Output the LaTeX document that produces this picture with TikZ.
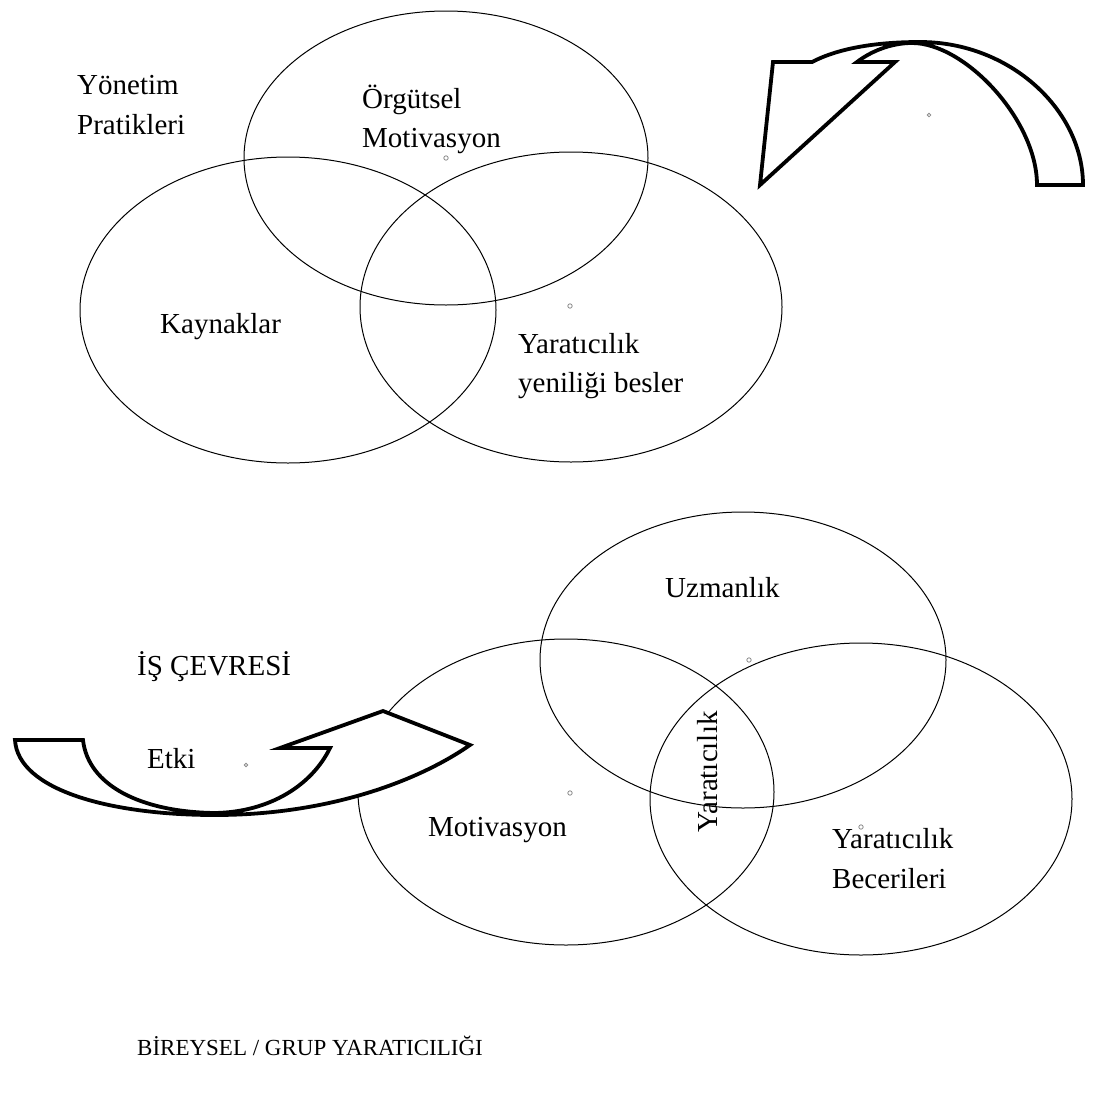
\documentclass[tikz,border=0pt]{standalone}
\usepackage{fontspec}
\setmainfont{Liberation Serif}
\begin{document}
\begin{tikzpicture}[x=1pt,y=-1pt,
  ring/.style={draw=black,line width=1pt},
  band/.style={draw=black,line width=3.8pt,line join=miter,fill=white},
  pip/.style={draw=black!45,line width=0.8pt,fill=white},
  lbl/.style={anchor=base west,inner sep=0pt,font=\fontsize{29}{35}\selectfont},
  vlbl/.style={inner sep=0pt,rotate=90,font=\fontsize{29}{35}\selectfont}]
\useasboundingbox (0,0) rectangle (1103,1093);

% upper group of overlapping ellipses
\draw[ring] (446,158) ellipse [x radius=202, y radius=147];
\draw[ring] (288,310) ellipse [x radius=208, y radius=153];
\draw[ring] (571,307) ellipse [x radius=211, y radius=155];

% lower group of overlapping ellipses
\draw[ring] (743,660) ellipse [x radius=203, y radius=148];
\draw[ring] (566,792) ellipse [x radius=208, y radius=153];
\draw[ring] (861,799) ellipse [x radius=211, y radius=156];

% curved band arrow, upper right
\draw[band] (1037,185) -- (1083,185)
  .. controls (1083,110) and (1010,42) .. (920,42)
  .. controls (870,42) and (835,50) .. (812,62)
  -- (773,62) -- (760,185) -- (895,62) -- (857,62)
  .. controls (870,52) and (890,43) .. (912,43)
  .. controls (965,43) and (1037,120) .. cycle;

% curved band arrow, lower left
\draw[band] (83,740) -- (15,740)
  .. controls (18,790) and (110,815) .. (215,815)
  .. controls (330,815) and (420,780) .. (470,745)
  -- (383,711) -- (280,748) -- (330,748)
  .. controls (312,785) and (270,812) .. (215,813)
  .. controls (140,812) and (88,785) .. cycle;

% small centre marks
\draw[pip] (446,158) circle [radius=2.2];
\draw[pip] (570,306) circle [radius=2.2];
\draw[pip] (929,115) circle [radius=1.8];
\draw[pip] (749,660) circle [radius=2.2];
\draw[pip] (570,793) circle [radius=2.2];
\draw[pip] (861,827) circle [radius=2.2];
\draw[pip] (246,765) circle [radius=1.8];

% labels
\node[lbl] (yon)  at (77,94)   {Yönetim};
\node[lbl] (prat) at (77,134)  {Pratikleri};
\node[lbl] (org)  at (362,108) {Örgütsel};
\node[lbl] (omot) at (362,147) {Motivasyon};
\node[lbl] (kay)  at (160,333) {Kaynaklar};
\node[lbl] (yar1) at (518,353) {Yaratıcılık};
\node[lbl] (yen)  at (518,392) {yeniliği besler};
\node[lbl] (uzm)  at (665,597) {Uzmanlık};
\node[lbl] (isc)  at (137,675) {İŞ ÇEVRESİ};
\node[lbl] (bmot) at (428,836) {Motivasyon};
\node[vlbl] (yarv) at (708,772) {Yaratıcılık};
\node[lbl] (yar2) at (832,848) {Yaratıcılık};
\node[lbl] (bec)  at (832,888) {Becerileri};
\node[lbl] (etki) at (147,768) {Etki};
\node[lbl,font=\fontsize{23}{28}\selectfont] (bgy) at (137,1055) {BİREYSEL / GRUP YARATICILIĞI};
\end{tikzpicture}
\end{document}
